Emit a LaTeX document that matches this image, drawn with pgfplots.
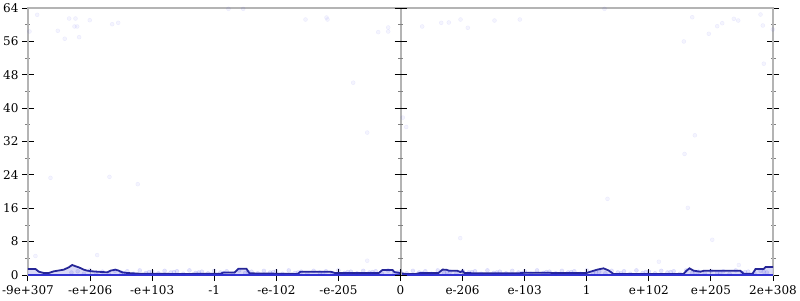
\documentclass[border=0pt]{standalone}
\usepackage{pgfplots}
\pgfplotsset{compat=1.18}
\usepackage{pgfplotstable}
\usepackage{fontspec}
\setmainfont{DejaVu Serif}
\definecolor{axgray}{RGB}{180,180,180}
\definecolor{linenavy}{RGB}{38,38,150}
\definecolor{fillblue}{RGB}{208,208,245}
\definecolor{basblue}{RGB}{50,50,210}
\definecolor{dotblue}{RGB}{40,40,230}
\pgfplotstableread{
x y
-6.000 1.44
-5.880 1.44
-5.826 0.80
-5.746 0.48
-5.665 0.48
-5.585 0.88
-5.424 1.28
-5.343 1.84
-5.288 2.40
-5.235 2.10
-5.182 1.84
-5.101 1.28
-5.047 1.04
-4.966 0.88
-4.725 0.64
-4.671 1.04
-4.591 1.28
-4.538 1.04
-4.483 0.64
-4.402 0.48
-4.188 0.30
-3.544 0.25
-2.900 0.30
-2.851 0.60
-2.674 0.60
-2.610 1.50
-2.481 1.50
-2.432 0.40
-1.659 0.25
-1.611 0.80
-1.128 0.80
-1.047 0.45
-0.354 0.45
-0.290 1.20
-0.129 1.20
-0.097 0.70
0.081 0.25
0.242 0.25
0.322 0.50
0.612 0.50
0.677 1.30
0.741 1.25
0.789 1.00
0.918 1.00
0.966 0.70
0.999 1.00
1.031 0.45
1.900 0.40
2.000 0.55
2.400 0.55
2.450 0.45
3.000 0.50
3.061 0.80
3.173 1.30
3.270 1.60
3.351 1.10
3.431 0.25
4.559 0.25
4.607 1.04
4.655 1.60
4.720 1.04
4.832 0.80
4.881 1.00
5.477 1.00
5.525 0.30
5.670 0.30
5.719 1.44
5.847 1.44
5.880 1.90
6.000 1.90
}\linedata
\begin{document}
\begin{tikzpicture}
\begin{axis}[
  at={(0pt,0pt)}, anchor=south west,
  scale only axis, width=745pt, height=267pt,
  xmin=-6, xmax=6, ymin=0, ymax=64,
  axis line style={axgray, line width=2pt},
  xtick={-6,-5,...,6},
  xticklabels={-9e+307,-e+206,-e+103,-1,-e-102,-e-205,0,e-206,e-103,1,e+102,e+205,2e+308},
  ytick={0,8,...,64},
  minor y tick num=1,
  xtick pos=bottom, ytick pos=both, yticklabel pos=left,
  tick align=center,
  major tick length=12pt, minor tick length=5pt,
  major tick style={black, line width=1pt},
  minor tick style={gray, line width=0.8pt},
  tick label style={font=\fontsize{12}{14}\selectfont, text=black},
  xticklabel style={yshift=-1pt},
  /pgf/number format/assume math mode=true,
  clip=false,
]
% scattered points (sparse)
\addplot[only marks, mark=*, mark size=2pt, mark options={draw=dotblue, fill=dotblue, draw opacity=0.07, fill opacity=0.05}] coordinates {
(-5.852,62.37)(-5.976,58.37)(-5.520,58.54)(-5.408,56.63)(-5.337,61.48)(-5.235,61.48)(-5.251,59.57)(-5.208,59.57)(-5.176,57.01)(-5.005,61.08)(-4.644,60.12)(-4.547,60.45)
(-2.771,63.80)(-2.534,63.80)(-1.530,61.24)(-1.192,61.72)(-1.176,61.24)(-0.359,58.21)(-0.198,59.33)(-0.198,58.37)(0.350,59.57)(0.656,60.45)(0.778,60.53)(0.967,61.24)(1.084,59.26)(1.514,61.00)(1.922,61.24)
(-0.762,46.10)(-0.536,34.14)(0.037,37.73)(0.092,35.48)
(3.286,63.80)(4.699,61.79)(4.564,55.98)(4.966,57.82)(5.101,59.64)(5.182,60.36)(5.369,61.41)(5.440,61.00)(5.799,62.44)(5.836,59.81)(5.997,58.85)(5.852,50.65)
(4.741,33.49)(4.575,29.02)(3.334,18.25)(4.628,16.10)(0.962,8.85)(5.021,8.44)
(-5.638,23.28)(-4.688,23.52)(-4.232,21.77)
(-5.880,4.55)(-4.886,4.78)(-0.536,3.42)(4.161,3.18)(5.449,2.39)
};
% scattered points (dense band near zero)
\addplot[only marks, mark=*, mark size=2pt, mark options={draw=dotblue, fill=dotblue, draw opacity=0.12, fill opacity=0.12}] coordinates {
(-5.30,0.6)(-5.20,0.9)(-5.10,0.3)(-5.00,1.1)(-4.90,0.5)(-4.80,0.8)(-4.70,0.4)(-4.60,1.0)
(-4.50,0.6)(-4.40,0.9)(-4.30,0.3)(-4.20,1.1)(-4.10,0.5)(-4.00,0.8)(-3.90,0.4)(-3.80,1.0)
(-3.70,0.6)(-3.60,0.9)(-3.50,0.3)(-3.40,1.1)(-3.30,0.5)(-3.20,0.8)(-3.10,0.4)(-3.00,1.0)
(-2.90,0.6)(-2.80,0.9)(-2.70,0.3)(-2.60,1.1)(-2.50,0.5)(-2.40,0.8)(-2.30,0.4)(-2.20,1.0)
(-2.10,0.6)(-2.00,0.9)(-1.90,0.3)(-1.80,1.1)(-1.70,0.5)(-1.60,0.8)(-1.50,0.4)(-1.40,1.0)
(-1.30,0.6)(-1.20,0.9)(-1.10,0.3)(-1.00,1.1)(-0.90,0.5)(-0.80,0.8)(-0.70,0.4)(-0.60,1.0)
(-0.50,0.6)(-0.40,0.9)(-0.30,0.3)(-0.20,1.1)(-0.10,0.5)(0.00,0.8)(0.10,0.4)(0.20,1.0)
(0.30,0.6)(0.40,0.9)(0.50,0.3)(0.60,1.1)(0.70,0.5)(0.80,0.8)(0.90,0.4)(1.00,1.0)
(1.10,0.6)(1.20,0.9)(1.30,0.3)(1.40,1.1)(1.50,0.5)(1.60,0.8)(1.70,0.4)(1.80,1.0)
(1.90,0.6)(2.00,0.9)(2.10,0.3)(2.20,1.1)(2.30,0.5)(2.40,0.8)(2.50,0.4)(2.60,1.0)
(2.70,0.6)(2.80,0.9)(2.90,0.3)(3.00,1.1)(3.10,0.5)(3.20,0.8)(3.30,0.4)(3.40,1.0)
(3.50,0.6)(3.60,0.9)(3.70,0.3)(3.80,1.1)(3.90,0.5)(4.00,0.8)(4.10,0.4)(4.20,1.0)
(4.30,0.6)(4.40,0.9)(4.50,0.3)(4.60,1.1)(4.70,0.5)(4.80,0.8)(4.90,0.4)(5.00,1.0)
(5.10,0.6)(5.20,0.9)(5.30,0.3)(5.40,1.1)(5.50,0.5)(5.60,0.8)(5.70,0.4)(5.80,1.0)(5.90,0.6)
(-4.45,0.4)(-3.65,0.7)(-2.85,0.5)(-2.05,0.7)(-1.25,0.4)(-0.45,0.7)(0.35,0.4)(1.15,0.7)(1.95,0.4)(2.75,0.7)(3.55,0.4)(4.35,0.7)(5.15,0.4)(5.85,0.8)
(-4.05,0.7)(-3.25,0.6)(-2.45,0.7)(-1.65,0.6)(-0.85,0.7)(-0.05,0.6)(0.75,0.7)(1.55,0.6)(2.35,0.7)(3.15,0.6)(3.95,0.7)(4.75,0.6)(5.55,0.7)
};
% density area
\addplot[draw=none, fill=fillblue, fill opacity=0.8] table {\linedata} \closedcycle;
\addplot[linenavy, line width=1.8pt] table {\linedata};
\addplot[basblue, line width=2.4pt] coordinates {(-6,0) (6,0)};
% middle divider with ticks
\draw[axgray, line width=2pt] (axis cs:0,0) -- (axis cs:0,64);
\pgfplotsinvokeforeach{0,8,...,64}{\draw[black, line width=1pt] ([xshift=-6pt]axis cs:0,#1) -- ([xshift=6pt]axis cs:0,#1);}
\pgfplotsinvokeforeach{4,12,...,60}{\draw[gray, line width=0.8pt] ([xshift=-2.5pt]axis cs:0,#1) -- ([xshift=2.5pt]axis cs:0,#1);}
\draw[black, line width=1pt] ([yshift=-6pt]axis cs:0,0) -- ([yshift=6pt]axis cs:0,0);
\end{axis}
\pgfresetboundingbox
\path (-28pt,-25pt) rectangle (772pt,275pt);
\end{tikzpicture}
\end{document}
